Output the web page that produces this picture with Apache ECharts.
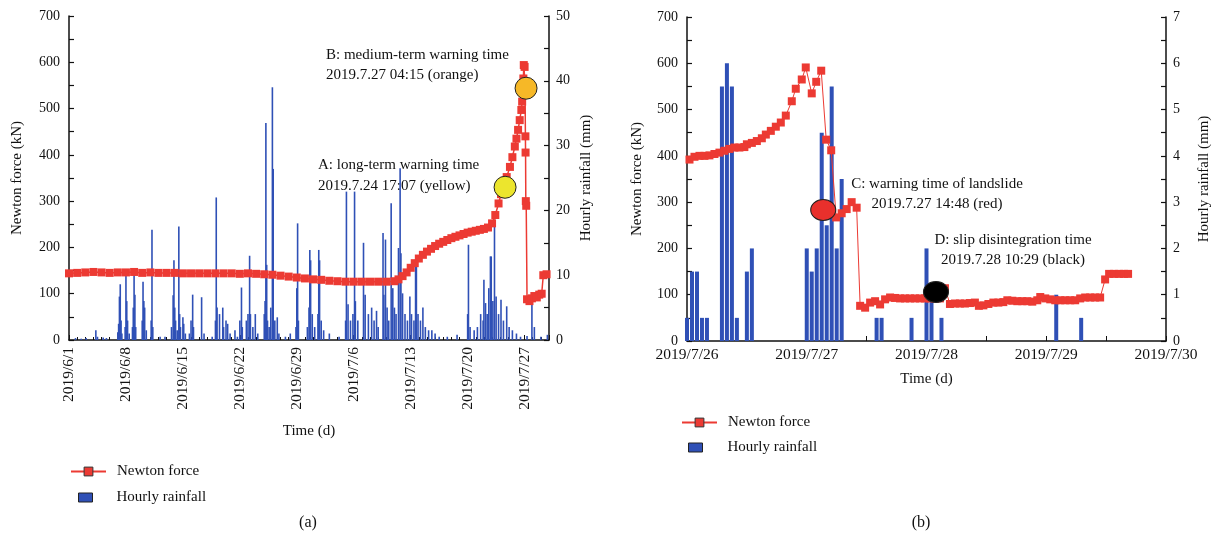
<!DOCTYPE html>
<html><head><meta charset="utf-8">
<script src="https://cdn.jsdelivr.net/npm/echarts@6/dist/echarts.min.js"></script>
<style>html,body{margin:0;padding:0;background:#fff}#c{width:1215px;height:541px}</style>
</head><body><div id="c"></div>
<script>
// ---------- DATA ----------
// (a) x = days since 2019/6/1 00:00
const forceA = [
[0,144],[1,145],[2,146],[3,147],[4,146],[5,145],[6,146],[7,146],[8,147],[9,145],[10,146],[11,145],[12,145],[13,145],[14,144],[15,144],[16,144],[17,144],[18,144],[19,144],[20,144],[21,143],[22,144],[23,143],[24,142],[25,141],[26,139],[27,137],[28,135],[29,133],[30,131],[31,130],[32,128],[33,127],[34,126],[35,126],[36,126],[37,126],[38,126],[39,126],[40,127],[40.5,131],[41,138],[41.5,146],[42,156],[42.5,166],[43,176],[43.5,184],[44,191],[44.5,197],[45,203],[45.5,208],[46,212],[46.5,216],[47,220],[47.5,223],[48,226],[48.5,229],[49,232],[49.5,234],[50,236],[50.5,238],[51,240],[51.5,243],[52,252],[52.4,270],[52.8,295],[53.1,315],[53.4,330],[53.8,352],[54.2,374],[54.5,395],[54.8,418],[55.0,435],[55.2,454],[55.4,475],[55.6,497],[55.7,515],[55.8,535],[55.85,565],[55.9,594],[56.0,590],[56.05,555],[56.1,440],[56.12,405],[56.15,300],[56.2,290],[56.3,88],[56.6,84],[56.9,90],[57.2,95],[57.5,92],[57.8,98],[58.1,100],[58.3,140],[58.7,142]
];
const rainA = [
[0.8,0.3],[1.5,0.2],[2.1,0.3],[3.3,1.5],[3.5,0.5],[4.2,0.4],[4.6,0.3],
[6.0,1.2],[6.1,2.5],[6.2,6.7],[6.3,8.6],[6.4,3],[6.5,1],
[6.9,2],[7.0,10],[7.1,6],[7.2,3],[7.4,1],
[7.8,2],[7.9,5],[8.0,10.5],[8.1,7],[8.2,2],
[9.0,3],[9.1,9],[9.2,6],[9.3,5],[9.5,1.5],
[10.1,3],[10.2,17],[10.3,2],[11.2,0.5],[11.8,0.5],
[12.6,2],[12.8,6.9],[12.9,12.3],[13.0,5],[13.1,3],[13.3,1.5],[13.5,17.5],[13.6,4],[13.7,2],[14.0,3.5],[14.1,2.5],[14.3,1],
[14.8,1],[15.0,3],[15.2,7],[15.3,2],[16.3,6.6],[16.6,1],[17.6,0.5],
[18.0,3],[18.1,22],[18.2,5],[18.5,4],[18.9,5],[19.0,2],[19.3,3],[19.5,2.5],[19.8,1],
[20.4,1.5],[20.7,0.5],[21.0,3],[21.2,8.1],[21.3,2],
[21.8,3],[22.0,4],[22.2,13],[22.3,4],[22.6,2],[22.9,4],[23.2,1],
[24.0,4],[24.1,6],[24.2,33.5],[24.3,11.6],[24.4,3],[24.6,2],[24.8,5],[25.0,39],[25.1,26.4],[25.3,3],[25.6,3.5],[25.8,1],
[26.6,0.5],[27.2,1],[27.9,2],[28.0,8],[28.1,18],[28.2,3],
[29.3,2],[29.5,5],[29.6,13.9],[29.7,12.3],[29.9,4],[30.2,2],[30.6,4],[30.7,13.9],[30.8,12.3],[31.0,3],[31.3,1.5],[32.0,1],
[33.2,0.5],[34.0,3],[34.1,22.9],[34.3,5.5],[34.6,3],[34.9,4],[35.1,22.9],[35.2,6],[35.5,3],
[36.2,15],[36.4,7],[36.8,4],[37.2,5],[37.5,3],[37.8,4.5],[38.0,2],[38.6,16.5],[38.7,7],[38.9,15.5],[39.1,5],[39.3,3],[39.6,21.1],[39.8,8],[40.0,5],[40.2,4],[40.5,14.2],[40.7,26.5],[40.8,13.4],[41.0,7.2],[41.3,4],[41.6,3],[41.9,6.7],[42.1,4],[42.4,3],[42.6,12.4],[42.7,11.3],[42.9,4],[43.2,3],[43.5,5],[43.8,2],[44.2,1.5],[44.6,1.5],[45.0,1],[45.5,0.5],
[46.5,0.5],[47.7,0.8],[49.0,4],[49.1,14.7],[49.3,2],
[49.8,1.5],[50.2,2],[50.6,4],[50.9,3],[51.0,9.3],[51.2,5.7],[51.4,4],[51.6,8],[51.8,12.9],[51.9,12.9],[52.1,6],[52.3,18.6],[52.5,6.7],[52.8,4],[53.1,6.2],[53.4,3],[53.8,5.2],[54.1,2],[54.5,1.5],[55.0,1],[55.5,0.5],
[56.3,0.6],[56.9,6.2],[57.2,2],[58.0,0.5],[58.8,0.8]
];
const warnA = [[53.6,330],[56.18,544]];          // yellow, orange
// (b) x = hours since 2019/7/26 00:00
const forceB = [
[0.5,392],[1.5,398],[2.5,400],[3.5,400],[4.5,401],[5.5,404],[6.5,407],[7.5,411],[8.5,415],[9.5,418],[10.5,418],[11.5,419],[12,425],[13,428],[14,432],[15,438],[15.8,446],[16.8,454],[17.8,463],[18.8,472],[19.8,487],[21,518],[21.8,545],[23,565],[23.8,591],[25,535],[25.9,560],[26.9,584],[27.9,435],[28.9,412],[29.9,267],[31,276],[32,285],[33,300],[34,288],
[34.7,76],[35.7,72],[36.7,83],[37.7,86],[38.7,79],[39.7,90],[40.7,94],[41.7,93],[42.7,92],[43.7,92],[44.7,92],[45.7,92],[46.7,92],[47.7,92],[48.7,92],[49.7,92],[50.7,92],[51.7,114],
[52.7,80],[53.7,81],[54.7,81],[55.7,81],[56.7,82],[57.7,83],[58.5,76],[59.4,77],[60.4,80],[61.4,83],[62.4,83],[63.4,84],[64.2,88],[65.2,87],[66.2,86],[67.2,86],[68.2,86],[69.2,85],[70.2,88],[70.8,95],[71.8,92],[72.8,90],[73.8,88],[74.8,88],[75.8,88],[76.8,88],[77.8,88],[78.8,92],[79.8,94],[80.8,94],[81.8,94],[82.8,94],[83.8,133],[84.6,145],[85.6,145],[86.6,145],[87.6,145],[88.4,145]
];
const rainB = [
[0,0.5],[1,1.5],[2,1.5],[3,0.5],[4,0.5],[7,5.5],[8,6],[9,5.5],[10,0.5],[12,1.5],[13,2],
[24,2],[25,1.5],[26,2],[27,4.5],[28,2.5],[29,5.5],[30,2],[31,3.5],
[38,0.5],[39,0.5],[45,0.5],[48,2],[49,1],[51,0.5],[74,1],[79,0.5]
];
const warnB = [[27.3,283],[49.9,106]];           // red, black
const forceTicks = {min:0, max:700, interval:100};
const rainTicksA = {min:0, max:50, interval:10};
const rainTicksB = {min:0, max:7, interval:1};

// ---------- CHART ----------
const FONT = "'Liberation Serif','DejaVu Serif',serif";
const RED = '#ec3a33', BLUE = '#2f50b6';
const ts = (s)=>({fontFamily:FONT, fontSize:s, color:'#111'});
function dateA(v){const d=new Date(Date.UTC(2019,5,1)+v*864e5);return '2019/'+(d.getUTCMonth()+1)+'/'+d.getUTCDate();}
function dateB(v){const d=new Date(Date.UTC(2019,6,26)+v*36e5);return '2019/'+(d.getUTCMonth()+1)+'/'+d.getUTCDate();}
const axLine = {show:true, lineStyle:{color:'#111', width:1.5}};
function yAx(grid, r, pos, name, gap){
  return {type:'value', gridIndex:grid, position:pos, min:r.min, max:r.max, interval:r.interval,
    name:name, nameLocation:'middle', nameGap:gap, nameRotate:90, nameTextStyle:ts(15),
    axisLine:axLine, axisTick:{show:true, inside:true, length:5, lineStyle:{color:'#111',width:1.2}},
    minorTick:{show:true, splitNumber:2, length:5, lineStyle:{color:'#111',width:1.2}},
    splitLine:{show:false}, axisLabel:{...ts(14), margin:pos==='left'?9:7}};
}
const chart = echarts.init(document.getElementById('c'));
chart.setOption({
  animation:false,
  backgroundColor:'#fff',
  grid:[{left:69, right:666, top:16, bottom:201},{left:687, right:49, top:17, bottom:200}],
  xAxis:[
    {type:'value', gridIndex:0, min:0, max:59, interval:7, name:'Time (d)', nameLocation:'middle', nameGap:84, nameTextStyle:ts(15),
     axisLine:axLine, axisTick:{show:true, inside:true, length:5, lineStyle:{color:'#111'}},
     minorTick:{show:true, splitNumber:7, length:3, lineStyle:{color:'#111'}}, splitLine:{show:false},
     axisLabel:{...ts(15.5), rotate:90, margin:7, formatter:dateA, showMaxLabel:false}},
    {type:'value', gridIndex:1, min:0, max:96, interval:24, name:'Time (d)', nameLocation:'middle', nameGap:31, nameTextStyle:ts(15),
     axisLine:axLine, axisTick:{show:true, inside:true, length:5, lineStyle:{color:'#111'}},
     minorTick:{show:true, splitNumber:2, length:5, lineStyle:{color:'#111'}}, splitLine:{show:false},
     axisLabel:{...ts(15.5), margin:6, formatter:dateB}}
  ],
  yAxis:[
    yAx(0, forceTicks, 'left', 'Newton force (kN)', 44),
    yAx(0, rainTicksA, 'right', 'Hourly rainfall (mm)', 30),
    yAx(1, forceTicks, 'left', 'Newton force (kN)', 42),
    yAx(1, rainTicksB, 'right', 'Hourly rainfall (mm)', 31)
  ],
  legend:[
    {data:[{name:'Newton force', itemStyle:{borderColor:'#333',borderWidth:1}}], left:65, top:459, itemWidth:35, itemHeight:11, textStyle:{...ts(15), padding:[0,0,0,6]}, selectedMode:false},
    {data:[{name:'Hourly rainfall', icon:'rect', itemStyle:{borderColor:'#222',borderWidth:1}}], left:73, top:485, itemWidth:14, itemHeight:9, textStyle:{...ts(15), padding:[0,0,0,19]}, selectedMode:false},
    {data:[{name:'Newton force', itemStyle:{borderColor:'#333',borderWidth:1}}], left:676, top:410, itemWidth:35, itemHeight:11, textStyle:{...ts(15), padding:[0,0,0,6]}, selectedMode:false},
    {data:[{name:'Hourly rainfall', icon:'rect', itemStyle:{borderColor:'#222',borderWidth:1}}], left:683, top:435, itemWidth:14, itemHeight:9, textStyle:{...ts(15), padding:[0,0,0,20]}, selectedMode:false}
  ],
  series:[
    {name:'Hourly rainfall', type:'bar', xAxisIndex:0, yAxisIndex:1, data:rainA, barWidth:1.6, itemStyle:{color:BLUE}, z:2},
    {name:'Newton force', type:'line', xAxisIndex:0, yAxisIndex:0, data:forceA, symbol:'rect', symbolSize:8, showAllSymbol:true,
      itemStyle:{color:RED}, lineStyle:{color:RED, width:1.5}, z:3},
    {type:'scatter', xAxisIndex:0, yAxisIndex:0, data:warnA, symbolSize:22, z:5,
      itemStyle:{opacity:1, color:(p)=>['#ece52d','#f6b827'][p.dataIndex], borderColor:'#222', borderWidth:1}},
    {name:'Hourly rainfall', type:'bar', xAxisIndex:1, yAxisIndex:3, data:rainB, barWidth:4, itemStyle:{color:BLUE}, z:2},
    {name:'Newton force', type:'line', xAxisIndex:1, yAxisIndex:2, data:forceB, symbol:'rect', symbolSize:8, showAllSymbol:true,
      itemStyle:{color:RED}, lineStyle:{color:RED, width:1}, z:3},
    {type:'scatter', xAxisIndex:1, yAxisIndex:2, data:warnB, symbolSize:[25,21], z:5,
      itemStyle:{opacity:1, color:(p)=>['#e8302c','#000000'][p.dataIndex], borderColor:'#222', borderWidth:1}}
  ],
  graphic:[
    {type:'text', x:326, y:45, style:{text:'B: medium-term warning time\n2019.7.27 04:15 (orange)', font:"15px "+FONT, fill:'#111', lineHeight:20}},
    {type:'text', x:318, y:155, style:{text:'A: long-term warning time\n2019.7.24 17:07 (yellow)', font:"15px "+FONT, fill:'#111', lineHeight:21}},
    {type:'text', x:937, y:174, style:{text:'C: warning time of landslide\n2019.7.27 14:48 (red)', font:"15px "+FONT, fill:'#111', lineHeight:20, align:'center'}},
    {type:'text', x:1013, y:230, style:{text:'D: slip disintegration time\n2019.7.28 10:29 (black)', font:"15px "+FONT, fill:'#111', lineHeight:20, align:'center'}},
    {type:'text', x:308, y:515, style:{text:'(a)', font:"16px "+FONT, fill:'#111', align:'center'}},
    {type:'text', x:921, y:515, style:{text:'(b)', font:"16px "+FONT, fill:'#111', align:'center'}}
  ]
});
</script></body></html>
